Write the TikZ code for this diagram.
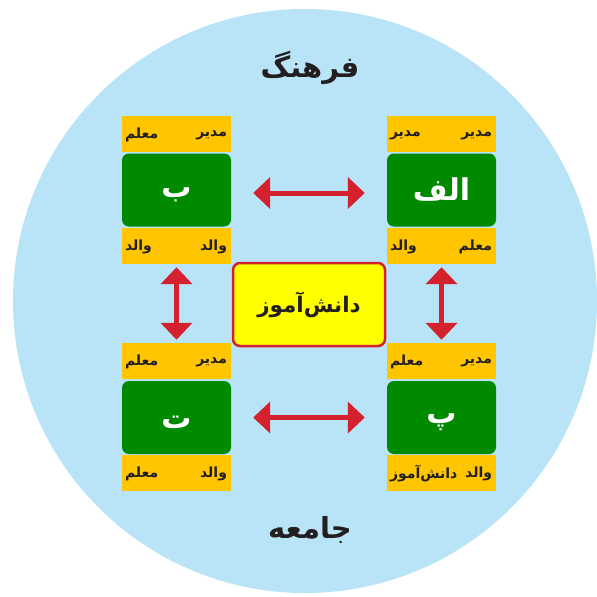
\documentclass[tikz,border=0pt]{standalone}
\usepackage{fontspec}
\usetikzlibrary{arrows.meta}
\TeXXeTstate=1
\newfontfamily\fa[Script=Arabic]{DejaVu Sans}
\definecolor{skyc}{HTML}{B9E4F8}
\definecolor{bandc}{HTML}{FFC600}
\definecolor{greenc}{HTML}{008A00}
\definecolor{centerc}{HTML}{FFFF00}
\definecolor{redc}{HTML}{D3212D}
\definecolor{txtc}{HTML}{231F20}
\tikzset{
 band/.style={fill=bandc, minimum width=109pt, minimum height=36pt, inner sep=0pt},
 gbox/.style={fill=greenc, rounded corners=7pt, minimum width=109pt, minimum height=73pt, inner sep=0pt, text=white, font=\fa\bfseries\fontsize{30}{36}\selectfont},
 bt/.style={font=\fa\bfseries\fontsize{14}{17}\selectfont, text=txtc, inner sep=0pt},
 biarrow/.style={draw=redc, line width=5pt, {Triangle[length=17pt,width=31pt]}-{Triangle[length=17pt,width=31pt]}},
 title/.style={font=\fa\bfseries\fontsize{29}{34}\selectfont, text=txtc, inner sep=0pt},
 centerbox/.style={fill=centerc, draw=redc, line width=2.5pt, rounded corners=7pt, minimum width=152pt, minimum height=83pt, inner sep=0pt, text=txtc, font=\fa\bfseries\fontsize{21.5}{26}\selectfont},
}
\newcommand\glyphdown[2]{\raisebox{-#1pt}[\height][\depth]{\beginR #2\endR}}
\begin{document}
\begin{tikzpicture}[x=1pt,y=-1pt]
\useasboundingbox (0,0) rectangle (597,597);
\fill[skyc] (305,301) circle[radius=292pt];

\node[title] (farhang) at (310,68) {\beginR فرهنگ\endR};
\node[title] (jameeh) at (310,530) {\beginR جامعه\endR};

% top-left group (b)
\node[band] (tlT) at (176.5,134) {};
\node[gbox] (tlG) at (176.5,190) {\glyphdown{5}{ب}};
\node[band] (tlB) at (176.5,246) {};
\node[bt, anchor=east] (tlT1) at ([xshift=-4pt,yshift=-1pt]tlT.east) {\beginR مدیر\endR};
\node[bt, anchor=west] (tlT2) at ([xshift=3pt,yshift=-1pt]tlT.west) {\beginR معلم\endR};
\node[bt, anchor=east] (tlB1) at ([xshift=-4pt,yshift=-1pt]tlB.east) {\beginR والد\endR};
\node[bt, anchor=west] (tlB2) at ([xshift=3pt,yshift=-1pt]tlB.west) {\beginR والد\endR};

% top-right group (alef)
\node[band] (trT) at (441.5,134) {};
\node[gbox] (trG) at (441.5,190) {\glyphdown{0}{الف}};
\node[band] (trB) at (441.5,246) {};
\node[bt, anchor=east] (trT1) at ([xshift=-4pt,yshift=-1pt]trT.east) {\beginR مدیر\endR};
\node[bt, anchor=west] (trT2) at ([xshift=3pt,yshift=-1pt]trT.west) {\beginR مدیر\endR};
\node[bt, anchor=east] (trB1) at ([xshift=-4pt,yshift=-1pt]trB.east) {\beginR معلم\endR};
\node[bt, anchor=west] (trB2) at ([xshift=3pt,yshift=-1pt]trB.west) {\beginR والد\endR};

% bottom-left group (t)
\node[band] (blT) at (176.5,361) {};
\node[gbox] (blG) at (176.5,417.5) {\glyphdown{5}{ت}};
\node[band] (blB) at (176.5,473) {};
\node[bt, anchor=east] (blT1) at ([xshift=-4pt,yshift=-1pt]blT.east) {\beginR مدیر\endR};
\node[bt, anchor=west] (blT2) at ([xshift=3pt,yshift=-1pt]blT.west) {\beginR معلم\endR};
\node[bt, anchor=east] (blB1) at ([xshift=-4pt,yshift=-1pt]blB.east) {\beginR والد\endR};
\node[bt, anchor=west] (blB2) at ([xshift=3pt,yshift=-1pt]blB.west) {\beginR معلم\endR};

% bottom-right group (p)
\node[band] (brT) at (441.5,361) {};
\node[gbox] (brG) at (441.5,417.5) {\glyphdown{5}{پ}};
\node[band] (brB) at (441.5,473) {};
\node[bt, anchor=east] (brT1) at ([xshift=-4pt,yshift=-1pt]brT.east) {\beginR مدیر\endR};
\node[bt, anchor=west] (brT2) at ([xshift=3pt,yshift=-1pt]brT.west) {\beginR معلم\endR};
\node[bt, anchor=east] (brB1) at ([xshift=-4pt,yshift=-1pt]brB.east) {\beginR والد\endR};
\node[bt, anchor=west] (brB2) at ([xshift=3pt,yshift=-1pt]brB.west) {\beginR دانش^^^^200cآموز\endR};

% center
\node[centerbox] (student) at (309,304.5) {\beginR دانش^^^^200cآموز\endR};

% arrows
\draw[biarrow, shorten <=22pt, shorten >=22pt] ([yshift=-3pt]tlG.east) -- ([yshift=-3pt]trG.west);
\draw[biarrow, shorten <=22pt, shorten >=22pt] (blG.east) -- (brG.west);
\draw[biarrow, shorten <=3pt, shorten >=3pt] (tlB.south) -- (blT.north);
\draw[biarrow, shorten <=3pt, shorten >=3pt] (trB.south) -- (brT.north);
\end{tikzpicture}
\end{document}
